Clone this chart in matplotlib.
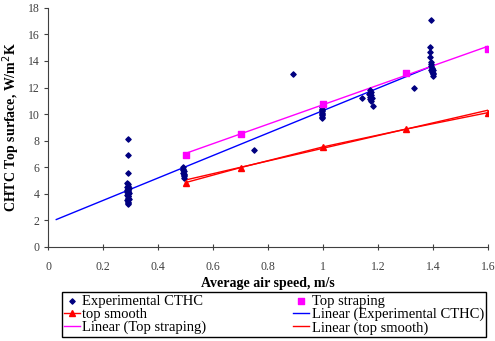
import numpy as np
import matplotlib
matplotlib.use("Agg")
import matplotlib.pyplot as plt

plt.rcParams['font.family'] = ['Liberation Serif', 'DejaVu Serif']

# measured heat transfer coefficients (air speed m/s, CHTC W/m2K)
exp_x = [0.29, 0.29, 0.29, 0.288, 0.292, 0.29, 0.288, 0.293, 0.29, 0.287,
         0.292, 0.29, 0.289, 0.294, 0.29, 0.288, 0.292, 0.29, 0.291, 0.293,
         0.289, 0.29, 0.291, 0.292, 0.29,
         0.49, 0.49, 0.492, 0.495, 0.49, 0.493, 0.495, 0.494, 0.496,
         0.748, 0.892,
         0.995, 0.995, 0.996, 0.995, 0.997, 0.995, 0.996, 0.998, 0.995,
         1.143, 1.17, 1.175, 1.17, 1.168, 1.175, 1.172, 1.178, 1.17, 1.176, 1.18,
         1.332,
         1.39, 1.388, 1.39, 1.392, 1.393, 1.392, 1.395, 1.396, 1.394, 1.397,
         1.398, 1.4, 1.398, 1.4, 1.393]
exp_y = [8.13, 6.95, 5.57, 4.8, 4.7, 4.6, 4.5, 4.45, 4.35, 4.3,
         4.25, 4.2, 4.1, 4.05, 4.0, 3.9, 3.85, 3.8, 3.7, 3.6,
         3.5, 3.4, 3.3, 3.2, 4.15,
         6.0, 5.9, 5.8, 5.7, 5.6, 5.5, 5.4, 5.3, 5.2,
         7.33, 13.05,
         10.5, 10.4, 10.3, 10.2, 10.1, 10.0, 9.9, 9.8, 9.7,
         11.24, 11.8, 11.7, 11.6, 11.5, 11.4, 11.3, 11.2, 11.1, 11.0, 10.6,
         11.97,
         15.06, 14.68, 14.33, 13.95, 13.8, 13.6, 13.5, 13.4, 13.3, 13.2,
         13.1, 13.0, 12.9, 13.3, 17.07]

speed = [0.5, 0.7, 1.0, 1.3, 1.6]
straping = [6.93, 8.51, 10.79, 13.13, 14.91]
smooth = [4.84, 5.97, 7.53, 8.86, 10.11]

fig = plt.figure(figsize=(4.95, 3.41), dpi=100)
ax = fig.add_axes([0.097, 0.276, 0.889, 0.701])

ax.scatter(exp_x, exp_y, marker='D', s=7, color='#000080', zorder=3,
           label='Experimental CTHC')
ax.scatter(speed, straping, marker='s', s=14, color='#FF00FF', zorder=3,
           label='Top straping')
ax.plot(speed, smooth, color='#FF0000', lw=1, marker='^', ms=4,
        zorder=3, label='top smooth')

# linear trendlines
p = np.polyfit(exp_x, exp_y, 1)
tx = np.array([0.03, 1.39])
ax.plot(tx, np.polyval(p, tx), color='#0000FF', lw=1,
        label='Linear (Experimental CTHC)')
p = np.polyfit(speed, straping, 1)
tx = np.array([speed[0], speed[-1]])
ax.plot(tx, np.polyval(p, tx), color='#FF00FF', lw=1,
        label='Linear (Top straping)')
p = np.polyfit(speed, smooth, 1)
ax.plot(tx, np.polyval(p, tx) + 0.06, color='#FF0000', lw=1,
        label='Linear (top smooth)')

ax.set_xlim(0, 1.6)
ax.set_ylim(0, 18)
ax.set_xticks(np.arange(0, 1.61, 0.2))
ax.set_xticklabels(['0', '0.2', '0.4', '0.6', '0.8', '1', '1.2', '1.4', '1.6'])
ax.set_yticks(range(0, 19, 2))
ax.spines['top'].set_visible(False)
ax.spines['right'].set_visible(False)
for s in ('left', 'bottom'):
    ax.spines[s].set_color('#404040')
ax.tick_params(axis='y', direction='out', length=3, labelsize=8.5,
               colors='#404040', pad=3)
ax.tick_params(axis='x', direction='inout', length=4, labelsize=8.5,
               colors='#404040', pad=8)
ax.set_xlabel('Average air speed, m/s', fontsize=10, fontweight='bold',
              labelpad=3)
ax.set_ylabel('CHTC Top surface, W/m$^2$K', fontsize=10, fontweight='bold',
              labelpad=4)

h, l = ax.get_legend_handles_labels()
d = dict(zip(l, h))
order = ['Experimental CTHC', 'top smooth', 'Linear (Top straping)',
         'Top straping', 'Linear (Experimental CTHC)', 'Linear (top smooth)']
fig.legend([d[k] for k in order], order, ncol=2, loc='lower left',
           bbox_to_anchor=(0.125, 0.012, 0.857, 0.135), mode='expand',
           fontsize=10.5, frameon=True, fancybox=False, edgecolor='black',
           framealpha=1, handlelength=1.1, handletextpad=0.15,
           labelspacing=0.0, borderpad=0.15, borderaxespad=0, markerscale=1)

fig.savefig('out.png', dpi=100)
